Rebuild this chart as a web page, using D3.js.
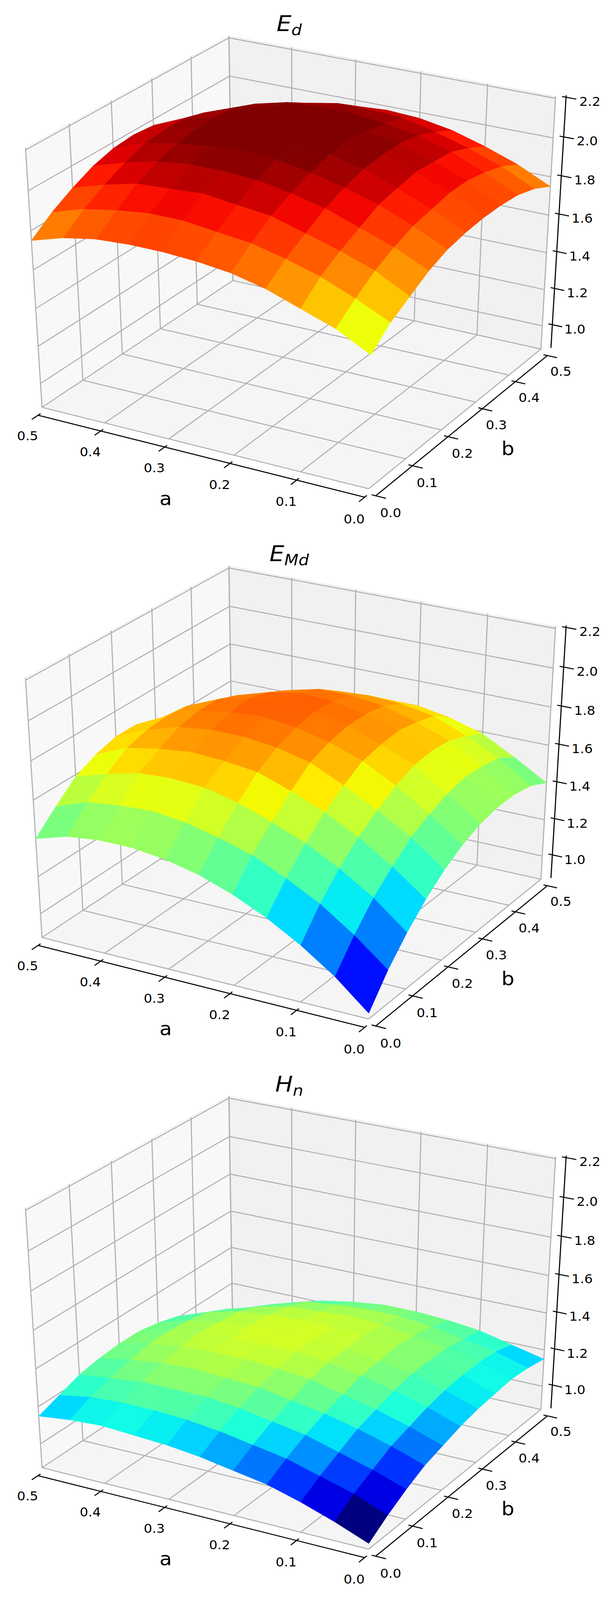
<!DOCTYPE html>
<html>
<head>
<meta charset="utf-8">
<script src="https://cdn.jsdelivr.net/npm/d3@7"></script>
<style>
  html, body { margin: 0; padding: 0; background: #fff; overflow: hidden; }
  svg { display: block; width: 100vw; height: 100vh; }
  text { font-family: "DejaVu Sans", sans-serif; fill: #000; }
</style>
</head>
<body>
<svg id="chart"></svg>
<script>
// ---- data ----
const gridA = [0, 0.05, 0.1, 0.15, 0.2, 0.25, 0.3, 0.35, 0.4, 0.45, 0.5];
const gridB = [0, 0.05, 0.1, 0.15, 0.2, 0.25, 0.3, 0.35, 0.4, 0.45, 0.5];
const aTicks = [0.0, 0.1, 0.2, 0.3, 0.4, 0.5];
const bTicks = [0.0, 0.1, 0.2, 0.3, 0.4, 0.5];
const zTicks = [1.0, 1.2, 1.4, 1.6, 1.8, 2.0, 2.2];

// rows: a = gridA[i], columns: b = gridB[j]
const edValues = [
  [1.56, 1.65, 1.71, 1.77, 1.81, 1.83, 1.84, 1.84, 1.83, 1.80, 1.75],
  [1.65, 1.73, 1.80, 1.85, 1.89, 1.91, 1.93, 1.93, 1.91, 1.88, 1.83],
  [1.71, 1.80, 1.86, 1.91, 1.96, 1.98, 2.00, 1.99, 1.98, 1.94, 1.89],
  [1.77, 1.85, 1.91, 1.97, 2.01, 2.04, 2.05, 2.05, 2.03, 1.99, 1.94],
  [1.81, 1.89, 1.96, 2.01, 2.05, 2.08, 2.09, 2.08, 2.06, 2.03, 1.97],
  [1.83, 1.91, 1.98, 2.04, 2.08, 2.10, 2.11, 2.11, 2.08, 2.04, 1.98],
  [1.84, 1.93, 2.00, 2.05, 2.09, 2.11, 2.12, 2.11, 2.08, 2.04, 1.97],
  [1.84, 1.93, 1.99, 2.05, 2.08, 2.11, 2.11, 2.10, 2.07, 2.01, 1.93],
  [1.83, 1.91, 1.98, 2.03, 2.06, 2.08, 2.08, 2.07, 2.03, 1.96, 1.87],
  [1.80, 1.88, 1.94, 1.99, 2.03, 2.04, 2.04, 2.01, 1.96, 1.88, 1.76],
  [1.75, 1.83, 1.89, 1.94, 1.97, 1.98, 1.97, 1.93, 1.87, 1.76, 0.98]
];
const emdValues = [
  [0.90, 1.05, 1.17, 1.27, 1.35, 1.41, 1.45, 1.47, 1.47, 1.45, 1.40],
  [1.05, 1.19, 1.31, 1.40, 1.48, 1.53, 1.57, 1.59, 1.58, 1.56, 1.50],
  [1.17, 1.31, 1.42, 1.51, 1.58, 1.64, 1.68, 1.69, 1.68, 1.64, 1.59],
  [1.27, 1.40, 1.51, 1.60, 1.67, 1.73, 1.75, 1.76, 1.74, 1.71, 1.64],
  [1.35, 1.48, 1.58, 1.67, 1.75, 1.79, 1.81, 1.81, 1.79, 1.74, 1.67],
  [1.41, 1.53, 1.64, 1.73, 1.79, 1.83, 1.85, 1.84, 1.81, 1.75, 1.67],
  [1.45, 1.57, 1.68, 1.75, 1.81, 1.85, 1.86, 1.85, 1.81, 1.74, 1.63],
  [1.47, 1.59, 1.69, 1.76, 1.81, 1.84, 1.85, 1.82, 1.77, 1.68, 1.55],
  [1.47, 1.58, 1.68, 1.74, 1.79, 1.81, 1.81, 1.77, 1.70, 1.59, 1.43],
  [1.45, 1.56, 1.64, 1.71, 1.74, 1.75, 1.74, 1.68, 1.59, 1.45, 1.24],
  [1.40, 1.50, 1.59, 1.64, 1.67, 1.67, 1.63, 1.55, 1.43, 1.24, 0.90]
];
const hnValues = [
  [0.90, 0.97, 1.03, 1.08, 1.11, 1.14, 1.16, 1.17, 1.18, 1.17, 1.15],
  [0.97, 1.04, 1.09, 1.14, 1.17, 1.20, 1.22, 1.23, 1.23, 1.22, 1.19],
  [1.03, 1.09, 1.14, 1.19, 1.22, 1.25, 1.27, 1.27, 1.27, 1.25, 1.23],
  [1.08, 1.14, 1.19, 1.23, 1.26, 1.29, 1.30, 1.31, 1.30, 1.28, 1.25],
  [1.11, 1.17, 1.22, 1.26, 1.30, 1.32, 1.33, 1.33, 1.32, 1.30, 1.26],
  [1.14, 1.20, 1.25, 1.29, 1.32, 1.34, 1.34, 1.34, 1.33, 1.30, 1.26],
  [1.16, 1.22, 1.27, 1.30, 1.33, 1.34, 1.35, 1.34, 1.32, 1.29, 1.24],
  [1.17, 1.23, 1.27, 1.31, 1.33, 1.34, 1.34, 1.33, 1.31, 1.27, 1.21],
  [1.18, 1.23, 1.27, 1.30, 1.32, 1.33, 1.32, 1.31, 1.27, 1.22, 1.15],
  [1.17, 1.22, 1.25, 1.28, 1.30, 1.30, 1.29, 1.27, 1.22, 1.16, 1.06],
  [1.15, 1.19, 1.23, 1.25, 1.26, 1.26, 1.24, 1.21, 1.15, 1.06, 0.90]
];
const titles = [["E", "d"], ["E", "Md"], ["H", "n"]];
const surfaces = [edValues, emdValues, hnValues];

// ---- layout / style ----
const W = 1571, H = 4409, panelStep = 1461;
const colorDomains = [[0.88, 2.08], [0.88, 2.08], [0.98, 1.58]];
const svg = d3.select("#chart").attr("viewBox", `0 0 ${W} ${H}`).attr("preserveAspectRatio", "none");
svg.append("rect").attr("width", W).attr("height", H).attr("fill", "#fff");

const uScale = d3.scaleLinear().domain([0.5, 0]).range([0, 1]);   // a axis inverted
const vScale = d3.scaleLinear().domain([0, 0.5]).range([0, 1]);
const wScale = d3.scaleLinear().domain([0.87, 2.21]).range([0, 1]);

// matplotlib jet
const jetR = d3.scaleLinear().domain([0, 0.35, 0.66, 0.89, 1]).range([0, 0, 1, 1, 0.5]).clamp(true);
const jetG = d3.scaleLinear().domain([0, 0.125, 0.375, 0.64, 0.91, 1]).range([0, 0, 1, 1, 0, 0]).clamp(true);
const jetB = d3.scaleLinear().domain([0, 0.11, 0.34, 0.65, 1]).range([0.5, 1, 1, 0, 0]).clamp(true);
const jet = t => d3.rgb(jetR(t) * 255, jetG(t) * 255, jetB(t) * 255).toString();

// camera: perspective matrix fitted to where the box corners sit in the panel
const boxCorners = [
  [[0, 0, 0], [106, 1118]], [[1, 0, 0], [947, 1347]], [[1, 1, 0], [1383, 964]],
  [[0, 1, 0], [595, 775]], [[0, 1, 1], [590, 97]], [[0, 0, 1], [63, 412]],
  [[1, 1, 1], [1419, 263]]
];
function fitCamera(pairs) {
  const A = [], b = [];
  pairs.forEach(([[X, Y, Z], [x, y]]) => {
    x /= 1000; y /= 1000;
    A.push([X, Y, Z, 1, 0, 0, 0, 0, -x * X, -x * Y, -x * Z]); b.push(x);
    A.push([0, 0, 0, 0, X, Y, Z, 1, -y * X, -y * Y, -y * Z]); b.push(y);
  });
  const n = 11;
  const M = d3.range(n).map(i => d3.range(n).map(j => d3.sum(A, r => r[i] * r[j])));
  const r = d3.range(n).map(i => d3.sum(A, (row, k) => row[i] * b[k]));
  for (let c = 0; c < n; c++) {
    let p = c;
    for (let i = c + 1; i < n; i++) if (Math.abs(M[i][c]) > Math.abs(M[p][c])) p = i;
    [M[c], M[p]] = [M[p], M[c]]; [r[c], r[p]] = [r[p], r[c]];
    for (let i = 0; i < n; i++) {
      if (i === c) continue;
      const f = M[i][c] / M[c][c];
      for (let j = c; j < n; j++) M[i][j] -= f * M[c][j];
      r[i] -= f * r[c];
    }
  }
  return r.map((v, i) => v / M[i][i]);
}
const cam = fitCamera(boxCorners);
function P(u, v, w) {
  const h = cam[8] * u + cam[9] * v + cam[10] * w + 1;
  return [1000 * (cam[0] * u + cam[1] * v + cam[2] * w + cam[3]) / h,
          1000 * (cam[4] * u + cam[5] * v + cam[6] * w + cam[7]) / h];
}
const depth = (u, v, w) => cam[8] * u + cam[9] * v + cam[10] * w + 1;
const line = d3.line();
const d48 = 1 / 48;

surfaces.forEach((values, k) => {
  const g = svg.append("g").attr("transform", `translate(0,${k * panelStep})`);
  const color = d3.scaleSequential(jet).domain(colorDomains[k]).clamp(true);

  // panes
  const panes = [
    { c: [[0, 0, 0], [0, 1, 0], [0, 1, 1], [0, 0, 1]], f: "#f8f8f8" },
    { c: [[0, 1, 0], [1, 1, 0], [1, 1, 1], [0, 1, 1]], f: "#f1f1f1" },
    { c: [[0, 0, 0], [1, 0, 0], [1, 1, 0], [0, 1, 0]], f: "#f5f5f5" }
  ];
  g.selectAll("path.pane").data(panes).join("path").attr("class", "pane")
    .attr("d", d => line(d.c.map(p => P(...p))) + "Z")
    .attr("fill", d => d.f).attr("stroke", "#eeeeee").attr("stroke-width", 2);

  // grid lines
  const grid = [];
  aTicks.forEach(a => { const u = uScale(a); grid.push([[u, 0, 0], [u, 1, 0], [u, 1, 1]]); });
  bTicks.forEach(b => { const v = vScale(b); grid.push([[1, v, 0], [0, v, 0], [0, v, 1]]); });
  zTicks.forEach(z => { const w = wScale(z); grid.push([[0, 0, w], [0, 1, w], [1, 1, w]]); });
  g.selectAll("path.grid").data(grid).join("path").attr("class", "grid")
    .attr("d", d => line(d.map(p => P(...p))))
    .attr("fill", "none").attr("stroke", "#b0b0b0").attr("stroke-width", 2.8);

  // axis lines
  const axes = [
    [[0, -d48, -d48], [1, -d48, -d48]],
    [[1 + d48, 0, -d48], [1 + d48, 1, -d48]],
    [[1 + d48, 1 + d48, 0], [1 + d48, 1 + d48, 1]]
  ];
  g.selectAll("path.axis").data(axes).join("path").attr("class", "axis")
    .attr("d", d => line(d.map(p => P(...p))))
    .attr("fill", "none").attr("stroke", "#000").attr("stroke-width", 2.8);

  // ticks and tick labels
  const ticks = [], labels = [];
  aTicks.forEach(a => {
    const u = uScale(a);
    ticks.push([[u, -d48 + 0.012, -d48], [u, -d48 - 0.03, -d48]]);
    labels.push({ p: P(u, -0.075, -0.075), t: a.toFixed(1) });
  });
  bTicks.forEach(b => {
    const v = vScale(b);
    ticks.push([[1 + d48 - 0.012, v, -d48], [1 + d48 + 0.03, v, -d48]]);
    labels.push({ p: P(1.065, v, -0.075), t: b.toFixed(1) });
  });
  zTicks.forEach(z => {
    const w = wScale(z);
    ticks.push([[1 + d48 - 0.012, 1 + d48, w], [1 + d48 + 0.03, 1 + d48, w]]);
    labels.push({ p: P(1.09, 1 + d48, w), t: z.toFixed(1) });
  });
  g.selectAll("path.tick").data(ticks).join("path").attr("class", "tick")
    .attr("d", d => line(d.map(p => P(...p))))
    .attr("stroke", "#000").attr("stroke-width", 2.8);
  g.selectAll("text.tl").data(labels).join("text").attr("class", "tl")
    .attr("x", d => d.p[0]).attr("y", d => d.p[1])
    .attr("text-anchor", "middle").attr("dominant-baseline", "central")
    .attr("font-size", 34).text(d => d.t);

  // axis titles
  const al = P(0.5, -0.18, -0.1), bl = P(1.15, 0.5, -0.085);
  g.append("text").attr("x", al[0]).attr("y", al[1]).attr("text-anchor", "middle")
    .attr("dominant-baseline", "central").attr("font-size", 52).text("a");
  g.append("text").attr("x", bl[0]).attr("y", bl[1]).attr("text-anchor", "middle")
    .attr("dominant-baseline", "central").attr("font-size", 52).text("b");

  // surface faces, painter's order (far first)
  const faces = [];
  for (let i = 0; i < gridA.length - 1; i++) {
    for (let j = 0; j < gridB.length - 1; j++) {
      const idx = [[i, j], [i + 1, j], [i + 1, j + 1], [i, j + 1]];
      const pts = idx.map(([ii, jj]) => [uScale(gridA[ii]), vScale(gridB[jj]), wScale(values[ii][jj])]);
      faces.push({
        pts,
        zAvg: d3.mean(idx, ([ii, jj]) => values[ii][jj]),
        depth: d3.mean(pts, p => depth(...p))
      });
    }
  }
  faces.sort((p, q) => q.depth - p.depth);
  g.selectAll("path.face").data(faces).join("path").attr("class", "face")
    .attr("d", d => line(d.pts.map(p => P(...p))) + "Z")
    .attr("fill", d => color(d.zAvg)).attr("stroke", d => color(d.zAvg))
    .attr("stroke-width", 0.8).attr("stroke-linejoin", "round");

  // title
  const t = g.append("text").attr("x", 740).attr("y", 85)
    .attr("text-anchor", "middle").attr("font-size", 60).attr("font-style", "italic");
  t.append("tspan").text(titles[k][0]);
  t.append("tspan").attr("font-size", 42).attr("dy", 12).text(titles[k][1]);
});
</script>
</body>
</html>
